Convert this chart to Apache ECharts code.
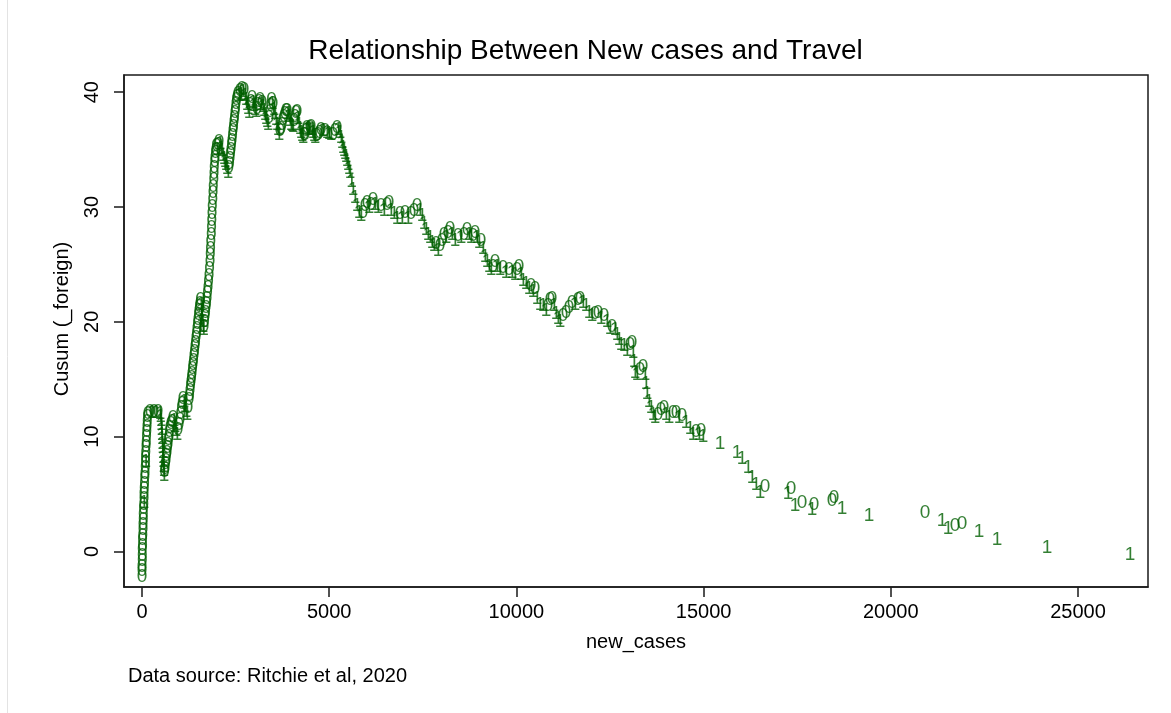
<!DOCTYPE html>
<html>
<head>
<meta charset="utf-8">
<script src="https://cdn.jsdelivr.net/npm/echarts@6/dist/echarts.min.js"></script>
<style>
  html, body { margin: 0; padding: 0; background: #ffffff; }
  #chart { width: 1171px; height: 713px; }
</style>
</head>
<body>
<div id="chart"></div>
<script>
// Cumulative sum of (mean - foreign) against new_cases, sorted by new_cases.
const newCases = [
  0, 0, 3, 5, 8, 10, 14, 18, 22, 26, 30, 34, 38, 43, 48, 53, 56, 58, 63, 68, 74, 80, 86, 92, 98, 101, 104, 110, 116, 122, 128, 134, 140, 150,
  160, 214, 267, 320, 374, 427, 481, 494, 507, 514, 521, 527, 534, 541, 548, 554, 561, 567, 574, 581, 588, 601, 614, 627,
  641, 654, 668, 681, 694, 708, 721, 734, 748, 774, 801, 828, 855, 881, 908, 935, 962, 988, 1015, 1035, 1055, 1075, 1095,
  1121, 1148, 1175, 1202, 1228,
  1255, 1270, 1283, 1295, 1310, 1322, 1335, 1348, 1362, 1376, 1390, 1404, 1416, 1430, 1442, 1455, 1469, 1482, 1496, 1510,
  1523, 1536, 1549, 1563, 1576, 1590, 1603, 1616, 1630, 1643, 1656, 1670, 1683, 1696, 1709, 1722, 1736, 1749, 1763, 1776,
  1790, 1803, 1816, 1824, 1832, 1840, 1848, 1856, 1864, 1872, 1880, 1888, 1897, 1906, 1915, 1924, 1933, 1943, 1953, 1963,
  1976, 1990, 2010, 2030, 2056, 2083, 2110, 2137, 2163, 2190, 2217, 2244, 2270, 2297, 2320, 2337, 2350, 2363, 2377, 2390,
  2404, 2417, 2431, 2444, 2457, 2471, 2484, 2497, 2511, 2524, 2544, 2564, 2590, 2618, 2645, 2671, 2698, 2724, 2751, 2778,
  2805, 2831, 2858, 2885, 2911, 2938, 2965, 2992, 3018, 3045, 3072, 3098, 3125, 3152, 3178, 3205, 3232, 3259, 3285, 3312,
  3339, 3365, 3392, 3419, 3439, 3459, 3479, 3499, 3526, 3552, 3579, 3606, 3632, 3659, 3686, 3713, 3740, 3766, 3793, 3819,
  3846, 3873, 3900, 3926, 3953, 3980, 4006, 4033, 4060, 4086, 4113, 4140, 4167, 4193, 4220, 4247, 4273, 4300, 4327, 4353,
  4380, 4407, 4433, 4460, 4487, 4514, 4540, 4567, 4594, 4621, 4661, 4701, 4741, 4781, 4835, 4888, 4941, 4995, 5048, 5102,
  5155, 5208, 5249, 5289, 5315, 5342, 5369, 5396, 5422, 5449, 5476, 5502, 5529, 5556, 5596, 5636, 5689, 5743, 5796, 5850,
  5903, 5956, 6010, 6063, 6117, 6170, 6224, 6304, 6384, 6464, 6544, 6598, 6651, 6731, 6812, 6892, 6945, 7025, 7105, 7186,
  7266, 7346, 7425, 7479, 7532, 7586, 7639, 7693, 7746, 7799, 7853, 7906, 7960, 8013, 8066, 8120, 8173, 8227, 8280, 8360,
  8440, 8520, 8601, 8681, 8734, 8788, 8841, 8894, 8948, 9001, 9055, 9108, 9161, 9215, 9268, 9322, 9375, 9429, 9482, 9562,
  9642, 9722, 9802, 9883, 9963, 10016, 10070, 10123, 10177, 10257, 10337, 10390, 10444, 10497, 10551, 10631, 10711, 10791,
  10845, 10898, 10951, 11005, 11058, 11112, 11165, 11245, 11325, 11405, 11486, 11566, 11646, 11699, 11779, 11860, 11940,
  12020, 12100, 12180, 12260, 12341, 12421, 12501, 12554, 12634, 12688, 12741, 12795, 12875, 12955, 13035, 13088, 13115,
  13142, 13168, 13222, 13302, 13382, 13435, 13462, 13489, 13542, 13595, 13649, 13702, 13782, 13862, 13942, 13996, 14076,
  14183, 14263, 14343, 14423, 14530, 14637, 14717, 14797, 14877, 14930, 14984,
  15438, 15893, 16026, 16186, 16293, 16400, 16507, 16641, 17255, 17335, 17442, 17629, 17896, 17949, 18430, 18483, 18697,
  19418, 20914, 21368, 21528, 21715, 21902, 22356, 22837, 24173, 26389
];

const cusumForeign = [
  -2.2, -1.7, -1.3, -0.8, -0.4, 0.1, 0.5, 1.0, 1.4, 1.9, 2.3, 2.8, 3.2, 3.7, 4.1, 4.6, 4.2, 5.0, 5.5, 5.9, 6.4, 6.8, 7.3, 7.7, 8.2, 7.8, 8.6, 9.1, 9.5, 10.0, 10.4, 10.9, 11.3, 11.7,
  12.0, 12.2, 12.1, 12.2, 12.1, 12.2, 12.0, 11.7, 11.4, 11.0, 10.6, 10.2, 9.8, 9.4, 9.0, 8.6, 8.2, 7.8, 7.4, 7.0, 6.6, 6.9, 7.2, 7.6,
  7.9, 8.3, 8.6, 9.0, 9.3, 9.7, 10.0, 10.4, 10.8, 11.1, 11.3, 11.6, 11.4, 10.9, 10.5, 10.2, 10.6, 11.0, 11.5, 12.0, 12.5, 12.9, 13.3,
  13.0, 12.6, 12.2, 11.9, 12.5,
  13.2, 13.6, 14.0, 14.4, 14.8, 15.1, 15.5, 15.9, 16.3, 16.6, 17.0, 17.4, 17.8, 18.2, 18.6, 19.0, 19.4, 19.8, 20.2, 20.6,
  21.0, 21.3, 21.6, 21.9, 21.5, 21.0, 20.5, 20.0, 19.6, 19.3, 19.6, 20.0, 20.4, 20.8, 21.2, 21.6, 22.0, 22.5, 23.0, 23.5,
  24.0, 24.6, 25.2, 25.8, 26.4, 27.0, 27.6, 28.2, 28.8, 29.4, 30.0, 30.6, 31.2, 31.8, 32.4, 32.9, 33.4, 33.9, 34.3, 34.7,
  35.0, 35.3, 35.0, 35.4, 35.7, 35.5, 35.1, 34.9, 34.5, 34.2, 33.9, 33.7, 33.3, 33.0, 33.4, 33.8, 34.2, 34.6, 35.0, 35.4,
  35.8, 36.2, 36.6, 37.0, 37.4, 37.8, 38.2, 38.6, 39.0, 39.3, 39.6, 39.9, 39.7, 40.1, 39.8, 40.3, 40.0, 40.2, 39.7, 39.3,
  38.9, 38.6, 38.2, 38.9, 39.2, 39.5, 39.1, 38.8, 38.5, 38.3, 38.6, 38.9, 39.2, 39.3, 38.9, 39.1, 38.7, 38.4, 38.0, 37.7,
  37.4, 37.2, 37.8, 38.3, 38.8, 39.3, 39.0, 39.0, 38.5, 38.1, 37.6, 37.2, 36.7, 36.3, 36.6, 36.8, 37.2, 37.6, 37.9, 38.1,
  38.4, 38.4, 38.1, 37.9, 37.5, 37.2, 37.1, 37.0, 37.5, 37.9, 38.2, 38.3, 37.7, 37.2, 36.8, 36.5, 36.2, 36.0, 36.3, 36.3,
  36.6, 36.9, 36.8, 36.7, 36.9, 37.0, 36.7, 36.5, 36.2, 36.0, 36.2, 36.3, 36.5, 36.7, 36.6, 36.6, 36.5, 36.4, 36.3, 36.3,
  36.6, 36.9, 36.7, 36.5, 36.0, 35.6, 35.2, 34.9, 34.6, 34.4, 34.0, 33.7, 33.3, 33.0, 32.2, 31.5, 30.8, 30.1, 29.5, 29.2,
  29.5, 30.1, 30.4, 29.9, 30.2, 30.6, 30.2, 29.9, 30.1, 29.7, 30.2, 30.4, 29.7, 29.4, 29.0, 29.4, 29.0, 29.5, 29.0, 29.4,
  29.7, 30.1, 29.7, 29.2, 28.5, 28.0, 27.6, 27.3, 26.9, 26.6, 26.8, 26.2, 26.6, 27.1, 27.6, 27.3, 27.8, 28.1, 27.6, 27.1,
  27.5, 27.3, 27.6, 28.0, 27.6, 27.3, 27.5, 27.8, 27.3, 26.9, 27.1, 26.4, 25.7, 25.2, 24.8, 24.5, 24.8, 25.2, 24.8, 24.5,
  24.7, 24.3, 24.5, 24.3, 24.1, 24.5, 24.8, 24.1, 23.6, 23.3, 22.9, 23.1, 22.6, 22.9, 22.0, 21.5, 21.4, 21.0,
  21.4, 21.9, 22.0, 21.4, 20.7, 20.3, 20.0, 20.5, 20.8, 21.2, 21.7, 21.5, 21.9, 22.0, 21.7, 21.4, 20.8,
  20.5, 20.7, 20.8, 20.3, 20.5, 20.0, 19.4, 19.6, 19.3, 18.9, 18.4, 18.0, 17.9, 17.5, 18.0, 18.2, 17.3,
  16.5, 15.6, 15.4, 15.8, 16.1, 15.4, 14.6, 13.7, 13.0, 12.5, 11.9, 11.6, 11.9, 12.3, 12.5, 11.9, 11.6,
  12.1, 12.1, 11.6, 11.8, 11.2, 10.7, 10.2, 10.4, 10.2, 10.5, 10.0,
  9.4, 8.6, 8.1, 7.3, 6.4, 5.8, 5.1, 5.6, 5.0, 5.5, 4.0, 4.2, 3.6, 4.1, 4.4, 4.7, 3.7,
  3.1, 3.4, 2.7, 2.0, 2.2, 2.4, 1.7, 1.0, 0.3, -0.3
];

// Value of foreign (0/1) shown as the marker text at each point:
// a step down in the cusum comes from foreign = 1, a step up from foreign = 0.
const foreignFlag = cusumForeign.map((v, i) => (i > 0 && v < cusumForeign[i - 1]) ? '1' : '0');

const xTicks = [0, 5000, 10000, 15000, 20000, 25000];
const yTicks = [0, 10, 20, 30, 40];

const points = newCases.map((x, i) => [x, cusumForeign[i]]);

const FONT = '"Liberation Sans", Arial, Helvetica, sans-serif';
const GREEN = '#005f00';

const chart = echarts.init(document.getElementById('chart'), null, { renderer: 'canvas' });

chart.setOption({
  backgroundColor: '#ffffff',
  animation: false,
  title: {
    text: 'Relationship Between New cases and Travel',
    left: 'center',
    top: 32,
    textStyle: { fontFamily: FONT, fontSize: 28, fontWeight: 'normal', color: '#000' }
  },
  grid: {
    left: 124, right: 23, top: 75, bottom: 126,
    show: true, borderColor: '#1a1a1a', borderWidth: 1.5, backgroundColor: '#ffffff'
  },
  xAxis: {
    type: 'value',
    min: -480, max: 26870,
    name: 'new_cases',
    nameLocation: 'middle',
    nameGap: 45,
    nameTextStyle: { fontFamily: FONT, fontSize: 20, color: '#000' },
    splitLine: { show: false },
    axisLine: { show: true, onZero: false, lineStyle: { color: '#1a1a1a', width: 1.5 } },
    axisTick: { show: true, length: 10, customValues: xTicks, lineStyle: { color: '#1a1a1a', width: 1.5 } },
    axisLabel: {
      customValues: xTicks, margin: 15,
      fontFamily: FONT, fontSize: 20, color: '#000',
      formatter: v => String(v)
    }
  },
  yAxis: {
    type: 'value',
    min: -3.1, max: 41.5,
    name: 'Cusum (_foreign)',
    nameLocation: 'middle',
    nameGap: 52,
    nameTextStyle: { fontFamily: FONT, fontSize: 20, color: '#000', padding: [0, 0, 0, 24] },
    splitLine: { show: false },
    axisLine: { show: true, onZero: false, lineStyle: { color: '#1a1a1a', width: 1.5 } },
    axisTick: { show: true, length: 10, customValues: yTicks, lineStyle: { color: '#1a1a1a', width: 1.5 } },
    axisLabel: {
      customValues: yTicks, rotate: 90, margin: 22,
      fontFamily: FONT, fontSize: 20, color: '#000',
      formatter: v => String(v)
    }
  },
  graphic: [
    {
      type: 'line',
      shape: { x1: 7.5, y1: 0, x2: 7.5, y2: 713 },
      style: { stroke: '#e3e3e3', lineWidth: 1 },
      silent: true
    },
    {
      type: 'text',
      left: 128, top: 666,
      style: { text: 'Data source: Ritchie et al, 2020', font: '20px ' + FONT, fill: '#000' },
      silent: true
    }
  ],
  series: [{
    type: 'scatter',
    data: points,
    symbol: 'circle',
    symbolSize: 1,
    itemStyle: { color: 'rgba(0,0,0,0)' },
    label: {
      show: true,
      position: 'inside',
      formatter: p => foreignFlag[p.dataIndex],
      fontFamily: FONT,
      fontSize: 19,
      color: GREEN
    },
    emphasis: { disabled: true },
    silent: true
  }]
});
</script>
</body>
</html>
